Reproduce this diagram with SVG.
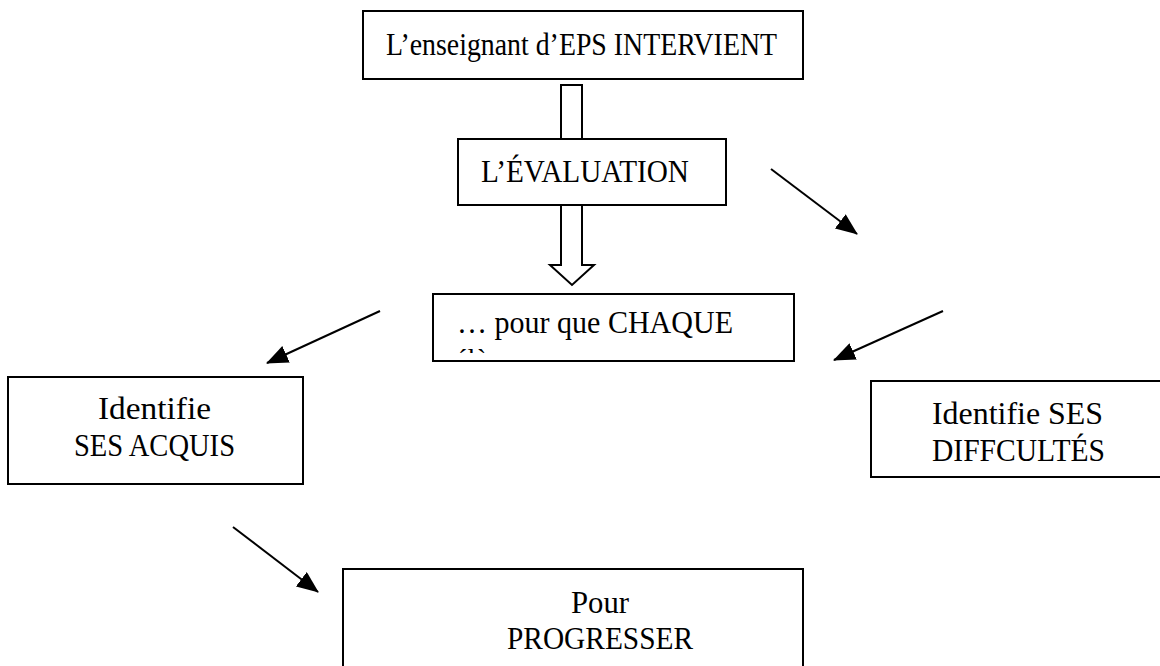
<svg xmlns="http://www.w3.org/2000/svg" width="1160" height="666" viewBox="0 0 1160 666">
<style>
.box{fill:#fff;stroke:#000;stroke-width:2}
.t{font-family:"Liberation Serif","Times New Roman",serif;font-size:31px;fill:#000}
.conn{stroke:#000;stroke-width:2;fill:none}
.hollow{fill:#fff;stroke:#000;stroke-width:2;stroke-linejoin:miter}
</style>
<defs>
<marker id="ah" markerUnits="userSpaceOnUse" markerWidth="22" markerHeight="18" refX="21" refY="9" orient="auto">
<path d="M0,0 L22,9 L0,18 z" fill="#000"/>
</marker>
<clipPath id="clipChaque"><rect x="434" y="295" width="359" height="58"/></clipPath>
</defs>
<g id="connectors">
<path class="hollow" d="M561,139 V85 H582 V139"/>
<path class="hollow" d="M561,206 V265 H550 L572,285 L594,265 H582 V206"/>
<line class="conn" x1="771" y1="169" x2="857" y2="234" marker-end="url(#ah)"/>
<line class="conn" x1="380" y1="311" x2="267" y2="363" marker-end="url(#ah)"/>
<line class="conn" x1="943" y1="311" x2="834" y2="360" marker-end="url(#ah)"/>
<line class="conn" x1="233" y1="527" x2="318" y2="592" marker-end="url(#ah)"/>
</g>
<g id="node-enseignant">
<rect class="box" x="363" y="11" width="440" height="68"/>
<text class="t" x="386" y="55" textLength="391" lengthAdjust="spacingAndGlyphs">L’enseignant d’EPS INTERVIENT</text>
</g>
<g id="node-evaluation">
<rect class="box" x="458" y="139" width="268" height="66"/>
<text class="t" x="481" y="182" textLength="208" lengthAdjust="spacingAndGlyphs">L’ÉVALUATION</text>
</g>
<g id="node-chaque">
<rect class="box" x="433" y="294" width="361" height="67"/>
<text class="t" x="457" y="333" textLength="276" lengthAdjust="spacingAndGlyphs">… pour que CHAQUE</text>
<text class="t" x="455" y="368" style="font-size:28px" clip-path="url(#clipChaque)">élève</text>
</g>
<g id="node-acquis">
<rect class="box" x="8" y="377" width="295" height="107"/>
<text class="t" x="98" y="419" textLength="113" lengthAdjust="spacingAndGlyphs">Identifie</text>
<text class="t" x="74" y="456" textLength="161" lengthAdjust="spacingAndGlyphs">SES ACQUIS</text>
</g>
<g id="node-difficultes">
<rect class="box" x="871" y="381" width="300" height="96"/>
<text class="t" x="932" y="424" textLength="171" lengthAdjust="spacingAndGlyphs">Identifie SES</text>
<text class="t" x="932" y="461" textLength="173" lengthAdjust="spacingAndGlyphs">DIFFCULTÉS</text>
</g>
<g id="node-progresser">
<rect class="box" x="343" y="569" width="460" height="110"/>
<text class="t" x="571" y="613" textLength="58" lengthAdjust="spacingAndGlyphs">Pour</text>
<text class="t" x="507" y="649" textLength="186" lengthAdjust="spacingAndGlyphs">PROGRESSER</text>
</g>
</svg>
